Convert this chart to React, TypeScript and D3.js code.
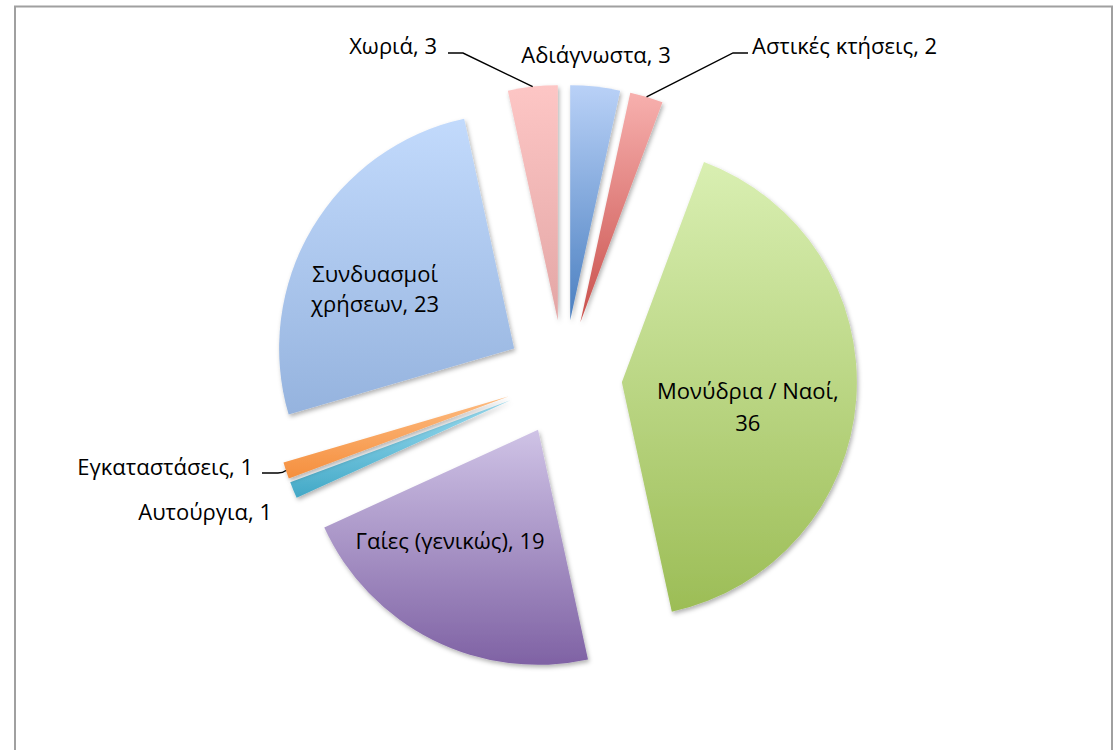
import React from "react";
import * as d3 from "d3";

const categories = [
  "Αδιάγνωστα",
  "Αστικές κτήσεις",
  "Μονύδρια / Ναοί",
  "Γαίες (γενικώς)",
  "Αυτούργια",
  "Εγκαταστάσεις",
  "Συνδυασμοί χρήσεων",
  "Χωριά",
];
const values = [3, 2, 36, 19, 1, 1, 23, 3];

const gradTop = ["#b9d1f7", "#f7b0ae", "#d9efb2", "#cfc3e6", "#9adcf1", "#fdbb80", "#c2dafc", "#fdc6c5"];
const gradBottom = ["#4a7fc0", "#c9504c", "#9cbd56", "#7f62a4", "#42a8c6", "#f58f3e", "#95b3de", "#e3a6a5"];

// label layout: inside labels are offset from the slice tip; outside labels have anchors
type LabelLayout =
  | { kind: "inside"; lines: string[]; dx: number; dy: number; lh: number }
  | { kind: "outside"; lines: string[]; x: number; y: number; anchor: "start" | "middle" | "end"; leader?: "left" | "right" | "curve" };

const labelLayout: LabelLayout[] = [
  { kind: "outside", lines: ["Αδιάγνωστα, 3"], x: 596, y: 63, anchor: "middle" },
  { kind: "outside", lines: ["Αστικές κτήσεις, 2"], x: 752, y: 54, anchor: "start", leader: "right" },
  { kind: "inside", lines: ["Μονύδρια / Ναοί,", "36"], dx: 126, dy: 25, lh: 32 },
  { kind: "inside", lines: ["Γαίες (γενικώς), 19"], dx: -88, dy: 111, lh: 30 },
  { kind: "outside", lines: ["Αυτούργια, 1"], x: 272, y: 520, anchor: "end" },
  { kind: "outside", lines: ["Εγκαταστάσεις, 1"], x: 253, y: 475, anchor: "end", leader: "curve" },
  { kind: "inside", lines: ["Συνδυασμοί", "χρήσεων, 23"], dx: -139, dy: -59, lh: 30 },
  { kind: "outside", lines: ["Χωριά, 3"], x: 437, y: 54, anchor: "end", leader: "left" },
];

const W = 1113;
const H = 750;
const CX = 564;
const CY = 378;
const R = 235;
const EXPLODE = 58;
const FONT = "'Open Sans', 'Noto Sans', sans-serif";
const FS = 22;

export default function App() {
  const pie = d3
    .pie<number>()
    .sort(null)
    .value((d) => d)
    .startAngle(0)
    .endAngle(2 * Math.PI);
  const arcs = pie(values);
  const arcGen = d3.arc<d3.PieArcDatum<number>>().innerRadius(0).outerRadius(R);

  const slices = arcs.map((a, i) => {
    const mid = (a.startAngle + a.endAngle) / 2;
    const tx = CX + Math.sin(mid) * EXPLODE;
    const ty = CY - Math.cos(mid) * EXPLODE;
    const outerMid: [number, number] = [tx + Math.sin(mid) * R, ty - Math.cos(mid) * R];
    return { a, i, mid, tx, ty, outerMid };
  });

  return (
    <svg
      width={W}
      height={H}
      style={{ position: "absolute", left: 0, top: 0, background: "#fff" }}
      fontFamily={FONT}
    >
      <defs>
        {slices.map((s) => (
          <linearGradient key={s.i} id={`g${s.i}`} x1="0" y1="0" x2="0" y2="1">
            <stop offset="0" stopColor={gradTop[s.i]} />
            <stop offset="1" stopColor={gradBottom[s.i]} />
          </linearGradient>
        ))}
        <filter id="shadow" x="-20%" y="-20%" width="140%" height="140%">
          <feDropShadow dx="1.5" dy="2.5" stdDeviation="2.2" floodColor="#000" floodOpacity="0.3" />
        </filter>
      </defs>
      <rect x={0} y={0} width={W} height={H} fill="#fff" />
      <rect x={15} y={6.5} width={1097} height={900} fill="#fff" stroke="#a0a0a0" strokeWidth={2} />

      {slices.map((s) => (
        <path
          key={s.i}
          d={arcGen(s.a) || ""}
          transform={`translate(${s.tx},${s.ty})`}
          fill={`url(#g${s.i})`}
          filter="url(#shadow)"
        />
      ))}

      {slices.map((s) => {
        const L = labelLayout[s.i];
        if (L.kind === "inside") {
          const cx = s.tx + L.dx;
          const cy = s.ty + L.dy;
          const n = L.lines.length;
          return (
            <text key={s.i} textAnchor="middle" fontSize={FS} fill="#000">
              {L.lines.map((ln, k) => (
                <tspan key={k} x={cx} y={cy + (k - (n - 1) / 2) * L.lh + 0.35 * FS}>
                  {ln}
                </tspan>
              ))}
            </text>
          );
        }
        const [ox, oy] = s.outerMid;
        let leader: string | null = null;
        if (L.leader === "left") {
          const y = L.y - 1;
          leader = `M${L.x + 11},${y}H${L.x + 26}L${ox},${oy}`;
        } else if (L.leader === "right") {
          const y = L.y - 1;
          leader = `M${L.x - 4},${y}H${L.x - 19}L${ox},${oy}`;
        } else if (L.leader === "curve") {
          const y = L.y - 2;
          leader = `M${L.x + 9},${y}H${L.x + 25}Q${L.x + 30},${y} ${ox},${oy}`;
        }
        return (
          <g key={s.i}>
            {leader && <path d={leader} fill="none" stroke="#000" strokeWidth={1.4} />}
            <text x={L.x} y={L.y} textAnchor={L.anchor} fontSize={FS} fill="#000">
              {L.lines[0]}
            </text>
          </g>
        );
      })}
    </svg>
  );
}
